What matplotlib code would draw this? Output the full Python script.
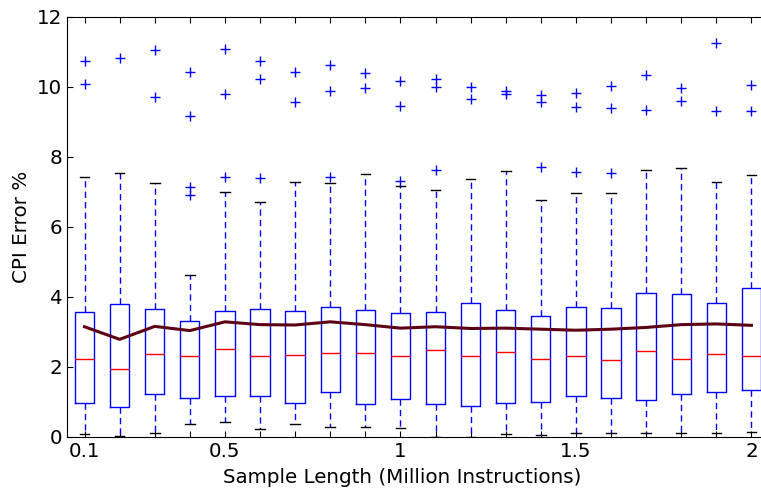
import matplotlib
matplotlib.use('Agg')
import matplotlib.pyplot as plt

# sample lengths (million instructions)
lengths = [0.1, 0.2, 0.3, 0.4, 0.5, 0.6, 0.7, 0.8, 0.9, 1.0,
           1.1, 1.2, 1.3, 1.4, 1.5, 1.6, 1.7, 1.8, 1.9, 2.0]

# per-length CPI error summary (%)
whislo = [0.08, 0.04, 0.11, 0.37, 0.44, 0.24, 0.36, 0.29, 0.28, 0.25,
          0.01, 0.01, 0.09, 0.05, 0.10, 0.10, 0.12, 0.10, 0.10, 0.14]
q1 = [0.98, 0.86, 1.22, 1.12, 1.18, 1.16, 0.98, 1.28, 0.94, 1.09,
      0.95, 0.89, 0.96, 1.01, 1.16, 1.10, 1.05, 1.24, 1.29, 1.35]
med = [2.24, 1.93, 2.37, 2.31, 2.52, 2.31, 2.35, 2.40, 2.41, 2.31,
       2.48, 2.32, 2.42, 2.23, 2.32, 2.19, 2.45, 2.24, 2.38, 2.31]
q3 = [3.58, 3.80, 3.65, 3.30, 3.59, 3.66, 3.60, 3.71, 3.64, 3.54,
      3.56, 3.83, 3.64, 3.47, 3.71, 3.68, 4.10, 4.08, 3.84, 4.27]
whishi = [7.44, 7.55, 7.27, 4.62, 6.99, 6.72, 7.29, 7.26, 7.52, 7.16,
          7.06, 7.38, 7.60, 6.78, 6.98, 6.98, 7.64, 7.69, 7.29, 7.49]
mean = [3.15, 2.79, 3.16, 3.04, 3.29, 3.21, 3.20, 3.29, 3.21, 3.11,
        3.15, 3.10, 3.11, 3.08, 3.05, 3.08, 3.13, 3.21, 3.23, 3.19]
outliers = [
    [10.75, 10.08],
    [10.82],
    [11.05, 9.70],
    [10.42, 9.17, 7.13, 6.92],
    [11.08, 9.80, 7.44],
    [10.75, 10.22, 7.41],
    [10.43, 9.58],
    [10.62, 9.89, 7.44],
    [10.40, 9.98],
    [10.18, 9.47, 7.31],
    [10.22, 9.99, 7.62],
    [9.99, 9.65],
    [9.88, 9.80],
    [9.76, 9.56, 7.71],
    [9.82, 9.42, 7.58],
    [10.04, 9.39, 7.53],
    [10.33, 9.33],
    [9.96, 9.60],
    [11.27, 9.30],
    [10.07, 9.30],
]

shown_ticks = {0.1: '0.1', 0.5: '0.5', 1.0: '1', 1.5: '1.5', 2.0: '2'}

stats = []
for i in range(len(lengths)):
    stats.append({'whislo': whislo[i], 'q1': q1[i], 'med': med[i],
                  'q3': q3[i], 'whishi': whishi[i], 'fliers': outliers[i]})

fig = plt.figure(figsize=(7.61, 4.93), dpi=100)
ax = fig.add_axes([0.088, 0.1136, 0.9225, 0.852])

ax.bxp(stats, positions=lengths, widths=0.055, showfliers=True,
       boxprops=dict(color='blue', linewidth=1),
       whiskerprops=dict(color='blue', linewidth=1, linestyle=(0, (4.5, 3))),
       capprops=dict(color='black', linewidth=1),
       medianprops=dict(color='red', linewidth=1),
       flierprops=dict(marker='+', markeredgecolor='blue', markersize=7,
                       markeredgewidth=1, linestyle='none'))

ax.plot(lengths, mean, color='#5c0014', linewidth=2.2)

ax.set_xlim(0.05, 2.05)
ax.set_ylim(0, 12)
ax.set_xticks(lengths)
ax.set_xticklabels([shown_ticks.get(round(v, 1), '') for v in lengths])
ax.set_yticks(range(0, 13, 2))
ax.tick_params(direction='in', length=4, top=True, right=True, labelsize=14.3)
ax.spines['right'].set_visible(False)
ax.set_xlabel('Sample Length (Million Instructions)', fontsize=14.3)
ax.set_ylabel('CPI Error %', fontsize=14.3)
ax.xaxis.set_label_coords(0.477, -0.075)

fig.savefig('out.png', dpi=100)
